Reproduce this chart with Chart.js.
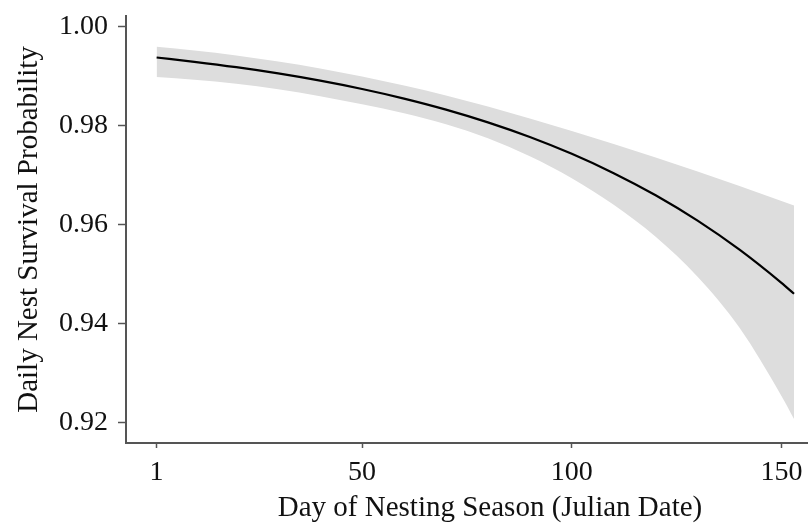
<!DOCTYPE html>
<html>
<head>
<meta charset="utf-8">
<script src="https://cdn.jsdelivr.net/npm/chart.js@4"></script>
<style>
  html, body { margin: 0; padding: 0; background: #fff; overflow: hidden; }
  canvas { display: block; }
</style>
</head>
<body>
<canvas id="myChart" width="854" height="529"></canvas>
<script>
const days = [1, 10, 20, 30, 40, 50, 60, 70, 80, 90, 100, 110, 120, 130, 140, 150, 153]
const survival = [0.99381, 0.99294, 0.99185, 0.99059, 0.98913, 0.98745, 0.98551, 0.98328, 0.98070,
    0.97774, 0.97434, 0.97043, 0.96596, 0.96083, 0.95496, 0.94826, 0.94607]
const upperCI = [0.99596, 0.99525, 0.99424, 0.99302, 0.99161, 0.98999, 0.98817, 0.98615, 0.98392,
    0.98150, 0.97897, 0.97634, 0.97361, 0.97078, 0.96785, 0.96481, 0.96388]
const lowerCI = [0.98989, 0.98932, 0.98851, 0.98740, 0.98599, 0.98437, 0.98255, 0.98032, 0.97749,
    0.97385, 0.96940, 0.96404, 0.95757, 0.94948, 0.93917, 0.92542, 0.92077]

const xTicks = [1, 50, 100, 150]
const yTicks = [0.92, 0.94, 0.96, 0.98, 1.00]

const pts = arr => days.map((d, i) => ({ x: d, y: arr[i] }))

const serif = 'Liberation Serif'
const axisColor = '#555555'

const ctx = document.getElementById('myChart')

new Chart(ctx, {
    type: 'line',
    data: {
        datasets: [{
            label: 'Survival',
            data: pts(survival),
            borderColor: '#000000',
            borderWidth: 2.2,
            pointRadius: 0,
            cubicInterpolationMode: 'monotone',
            fill: false
        }, {
            label: 'Upper',
            data: pts(upperCI),
            borderWidth: 0,
            borderColor: 'rgba(0,0,0,0)',
            backgroundColor: '#dddddd',
            pointRadius: 0,
            cubicInterpolationMode: 'monotone',
            fill: '+1'
        }, {
            label: 'Lower',
            data: pts(lowerCI),
            borderWidth: 0,
            borderColor: 'rgba(0,0,0,0)',
            pointRadius: 0,
            cubicInterpolationMode: 'monotone',
            fill: false
        }]
    },
    options: {
        responsive: false,
        animation: false,
        layout: { padding: { top: 16, right: 0, left: 0, bottom: 0 } },
        plugins: {
            legend: { display: false },
            tooltip: { enabled: false }
        },
        scales: {
            x: {
                type: 'linear',
                min: -6.3,
                max: 167.3,
                afterBuildTicks: s => { s.ticks = xTicks.map(v => ({ value: v })) },
                afterFit: s => { s.height = 86 },
                grid: { drawOnChartArea: false, drawTicks: true, tickLength: 5, tickColor: axisColor, tickWidth: 1.5 },
                border: { display: true, color: axisColor, width: 2 },
                ticks: {
                    padding: 8,
                    color: '#111',
                    font: { family: serif, size: 28 },
                    maxRotation: 0,
                    callback: v => String(v)
                },
                title: {
                    display: true,
                    text: 'Day of Nesting Season (Julian Date)',
                    color: '#111',
                    font: { family: serif, size: 29 },
                    padding: { top: 0, bottom: 3 }
                }
            },
            y: {
                min: 0.9159,
                max: 1.0022,
                afterBuildTicks: s => { s.ticks = yTicks.map(v => ({ value: v })) },
                afterFit: s => { s.width = 126; s.paddingTop = 0; s.paddingBottom = 0 },
                grid: { drawOnChartArea: false, drawTicks: true, tickLength: 8, tickColor: axisColor, tickWidth: 1.5 },
                border: { display: true, color: axisColor, width: 2 },
                ticks: {
                    padding: 10,
                    color: '#111',
                    font: { family: serif, size: 28 },
                    callback: v => v.toFixed(2)
                },
                title: {
                    display: true,
                    text: 'Daily Nest Survival Probability',
                    color: '#111',
                    font: { family: serif, size: 29 },
                    padding: { top: 12, bottom: 0 }
                }
            }
        }
    }
})
</script>
</body>
</html>
